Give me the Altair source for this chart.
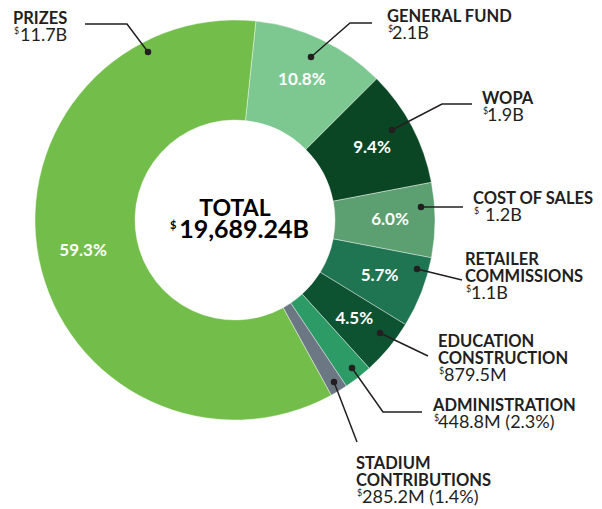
import math
import altair as alt
import pandas as pd

# ---- data -------------------------------------------------------------
categories = ["GENERAL FUND", "WOPA", "COST OF SALES", "RETAILER COMMISSIONS",
              "EDUCATION CONSTRUCTION", "ADMINISTRATION", "STADIUM CONTRIBUTIONS", "PRIZES"]
shares = [10.8, 9.4, 6.0, 5.7, 4.5, 2.3, 1.4, 59.3]
pct_labels = ["10.8%", "9.4%", "6.0%", "5.7%", "4.5%", "", "", "59.3%"]
amount_labels = ["2.1B", "1.9B", "1.2B", "1.1B", "879.5M", "448.8M (2.3%)", "285.2M (1.4%)", "11.7B"]
colors = ["#7DC890", "#0A4623", "#5C9F70", "#1F7551", "#0E5331", "#2D9B65", "#6C7784", "#73BE4B"]
total_label = "19,689.24B"

# ---- layout (pixels) --------------------------------------------------
W, H = 586, 505
CX, CY = 227, 212
OFF = math.radians(6)
FONT = "Lato"

df = pd.DataFrame({"cat": categories, "share": shares, "pct": pct_labels,
                   "idx": list(range(len(categories)))})

theta = alt.Theta("share:Q", stack=True, scale=alt.Scale(range=[OFF, OFF + 2 * math.pi]))
order = alt.Order("idx:Q")

donut = alt.Chart(df).mark_arc(innerRadius=100, outerRadius=200, stroke="white",
                               strokeWidth=0.4).encode(
    theta=theta, order=order,
    color=alt.Color("cat:N", scale=alt.Scale(domain=categories, range=colors), legend=None),
    x=alt.value(CX), y=alt.value(CY))

pct = alt.Chart(df).mark_text(radius=155, font=FONT, fontSize=17, fontWeight="bold",
                              color="white").encode(
    theta=theta, order=order, text="pct:N", x=alt.value(CX), y=alt.value(CY))

# callout geometry (page pixel coordinates)
leader = [
    ("PRIZES", [(148, 52), (127, 24), (85, 24)]),
    ("GENERAL FUND", [(311, 57), (350, 23), (372, 23)]),
    ("WOPA", [(392, 130), (442, 104), (472, 104)]),
    ("COST OF SALES", [(421, 207), (463, 207)]),
    ("RETAILER COMMISSIONS", [(417, 269), (462, 280)]),
    ("EDUCATION CONSTRUCTION", [(380, 333), (428, 356)]),
    ("ADMINISTRATION", [(352, 368), (383, 412), (422, 412)]),
    ("STADIUM CONTRIBUTIONS", [(334, 382), (357, 442)]),
]
line_rows, dot_rows = [], []
for name, pts in leader:
    for i, (px, py) in enumerate(pts):
        line_rows.append({"g": name, "o": i, "x": px, "y": py})
    dot_rows.append({"x": pts[0][0], "y": pts[0][1]})
lines_df = pd.DataFrame(line_rows)
dots_df = pd.DataFrame(dot_rows)

title_lines = {
    "PRIZES": ["PRIZES"],
    "GENERAL FUND": ["GENERAL FUND"],
    "WOPA": ["WOPA"],
    "COST OF SALES": ["COST OF SALES"],
    "RETAILER COMMISSIONS": ["RETAILER", "COMMISSIONS"],
    "EDUCATION CONSTRUCTION": ["EDUCATION", "CONSTRUCTION"],
    "ADMINISTRATION": ["ADMINISTRATION"],
    "STADIUM CONTRIBUTIONS": ["STADIUM", "CONTRIBUTIONS"],
}
# (left x, first baseline y, value x offset)
label_pos = {
    "PRIZES": (13, 24, 7),
    "GENERAL FUND": (387, 22, 5),
    "WOPA": (482, 104, 5),
    "COST OF SALES": (473, 204, 12),
    "RETAILER COMMISSIONS": (465, 265, 6),
    "EDUCATION CONSTRUCTION": (438, 347, 6),
    "ADMINISTRATION": (433, 411, 5),
    "STADIUM CONTRIBUTIONS": (356, 469, 6),
}
LH = 17
bold_rows, val_rows, sup_rows = [], [], []
for cat, amt in zip(categories, amount_labels):
    lx, ly, dx = label_pos[cat]
    tl = title_lines[cat]
    for j, t in enumerate(tl):
        bold_rows.append({"x": lx, "y": ly + j * LH, "t": t})
    vy = ly + len(tl) * LH
    val_rows.append({"x": lx + dx, "y": vy, "t": amt})
    sup_rows.append({"x": lx + 1, "y": vy - 7, "t": "$"})

xs = alt.Scale(domain=[8, 8 + W], nice=False, zero=False)
ys = alt.Scale(domain=[8, 8 + H], nice=False, zero=False, reverse=True)
X = alt.X("x:Q", scale=xs, axis=None)
Y = alt.Y("y:Q", scale=ys, axis=None)

lines = alt.Chart(lines_df).mark_line(color="#231F20", strokeWidth=1.5).encode(
    x=X, y=Y, detail="g:N", order="o:Q")
dots = alt.Chart(dots_df).mark_point(filled=True, color="#231F20", size=42, opacity=1).encode(x=X, y=Y)

bold_txt = alt.Chart(pd.DataFrame(bold_rows)).mark_text(
    align="left", baseline="alphabetic", font=FONT, fontSize=16.5, fontWeight="bold",
    color="#231F20").encode(x=X, y=Y, text="t:N")
val_txt = alt.Chart(pd.DataFrame(val_rows)).mark_text(
    align="left", baseline="alphabetic", font=FONT, fontSize=18,
    color="#231F20").encode(x=X, y=Y, text="t:N")
sup_txt = alt.Chart(pd.DataFrame(sup_rows)).mark_text(
    align="left", baseline="alphabetic", font=FONT, fontSize=9,
    color="#231F20").encode(x=X, y=Y, text="t:N")

center1 = alt.Chart(pd.DataFrame([{"x": 235, "y": 216, "t": "TOTAL"}])).mark_text(
    align="center", baseline="alphabetic", font=FONT, fontSize=23, fontWeight="bold",
    color="#000000").encode(x=X, y=Y, text="t:N")
center2 = alt.Chart(pd.DataFrame([{"x": 244, "y": 238, "t": total_label}])).mark_text(
    align="center", baseline="alphabetic", font=FONT, fontSize=25, fontWeight="bold",
    color="#000000").encode(x=X, y=Y, text="t:N")
center_sup = alt.Chart(pd.DataFrame([{"x": 170, "y": 229, "t": "$"}])).mark_text(
    align="left", baseline="alphabetic", font=FONT, fontSize=11, fontWeight="bold",
    color="#000000").encode(x=X, y=Y, text="t:N")

chart = alt.layer(donut, pct, lines, dots, bold_txt, val_txt, sup_txt,
                  center1, center2, center_sup).properties(
    width=W, height=H, padding=0, autosize="none", background="white"
).configure_view(stroke=None)

chart.save("out.html", embed_options={"renderer": "svg", "actions": False})
